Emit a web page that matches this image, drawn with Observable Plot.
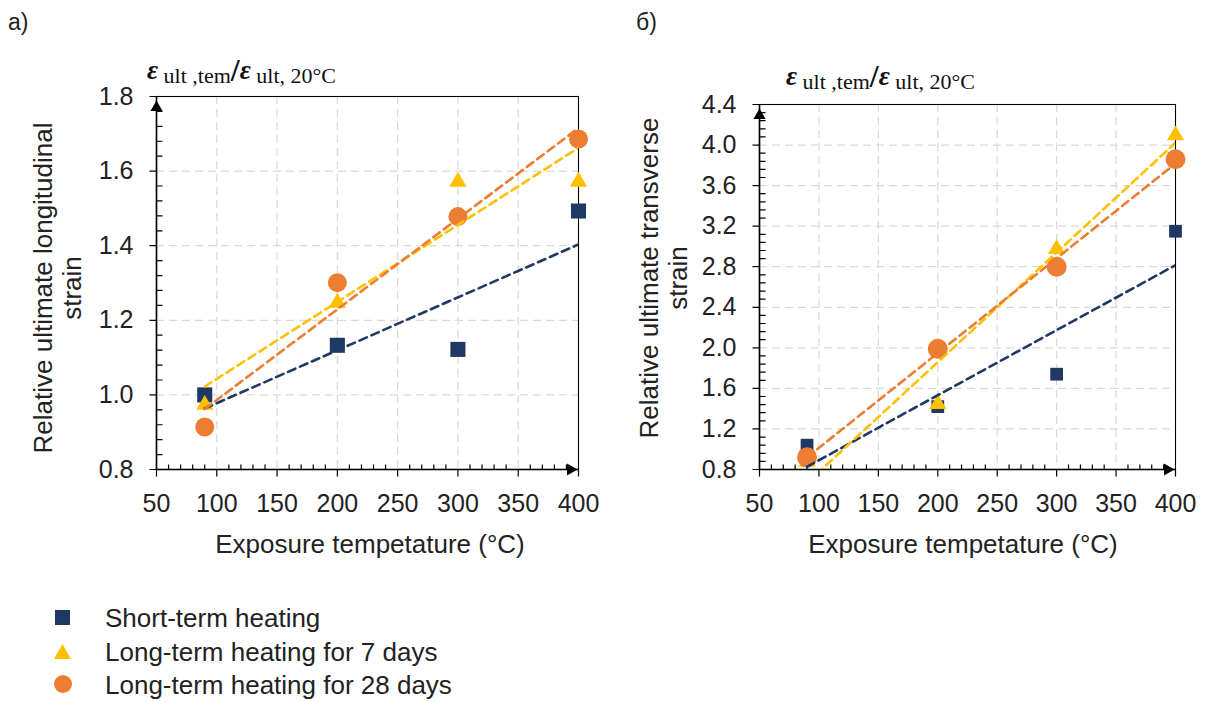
<!DOCTYPE html>
<html><head><meta charset="utf-8">
<script src="https://cdn.jsdelivr.net/npm/d3@7"></script>
<script src="https://cdn.jsdelivr.net/npm/@observablehq/plot@0.6"></script>
<style>
body{margin:0;background:#fff;font-family:"Liberation Sans",Arial,sans-serif;color:#222;}
#root{position:relative;width:1207px;height:702px;overflow:hidden;background:#fff}
.abs{position:absolute;white-space:pre;line-height:1}
.formula{position:absolute;white-space:pre;line-height:1;font-family:"Liberation Serif","DejaVu Serif",serif;color:#111}
.formula .eps{font-weight:bold;font-style:italic;font-size:27px}
.formula .sub{font-size:22px;position:relative;top:4px}
.formula .sl{font-size:32px;font-weight:bold;position:relative;top:2px}
.ytitle{position:absolute;white-space:nowrap;text-align:center;font-size:26px;line-height:29px;transform:translate(-50%,-50%) rotate(-90deg)}
.legrow{position:absolute;left:0;font-size:26px;line-height:1;white-space:nowrap}
</style></head><body><div id="root"></div>
<script>
// ---- data ----
const temps = [90, 200, 300, 400];
const seriesNames = ["Short-term heating", "Long-term heating for 7 days", "Long-term heating for 28 days"];
const seriesColors = ["#203864", "#FFC000", "#ED7D31"];
// panel a) relative ultimate longitudinal strain
const longShort = [1.00, 1.133, 1.122, 1.493];
const long7 = [0.98, 1.254, 1.578, 1.578];
const long28 = [0.914, 1.301, 1.478, 1.686];
// panel б) relative ultimate transverse strain
const transShort = [1.04, 1.42, 1.74, 3.15];
const trans7 = [0.90, 1.47, 3.00, 4.12];
const trans28 = [0.92, 1.99, 2.80, 3.86];
// axes
const xDomain = [50, 400];
const xTicks = [50, 100, 150, 200, 250, 300, 350, 400];
const yDomainA = [0.8, 1.8];
const yTicksA = [0.8, 1.0, 1.2, 1.4, 1.6, 1.8];
const yDomainB = [0.8, 4.4];
const yTicksB = [0.8, 1.2, 1.6, 2.0, 2.4, 2.8, 3.2, 3.6, 4.0, 4.4];
const xMinorTicks = d3.range(50, 400, 10).filter(v => v % 50 !== 0);
const yMinorA = d3.range(1, 25).filter(i => i % 5).map(i => 0.8 + i * 0.04);
const yMinorB = d3.range(1, 45).filter(i => i % 5).map(i => 0.8 + i * 0.08);

const root = document.getElementById("root");
function place(el, left, top) {
  const w = document.createElement("div");
  w.style.position = "absolute"; w.style.left = left + "px"; w.style.top = top + "px";
  w.appendChild(el); root.appendChild(w); return w;
}
function text(str, cls, left, top, extra) {
  const d = document.createElement("div");
  d.className = cls; d.textContent = str;
  d.style.left = left + "px"; d.style.top = top + "px";
  if (extra) Object.assign(d.style, extra);
  root.appendChild(d); return d;
}

// tick-line symbols for the dot mark: a short segment from the anchor point
const tickSym = (dx, dy) => ({draw(context) { context.moveTo(0, 0); context.lineTo(dx, dy); context.closePath(); }});
const tickDown = tickSym(0, 7), tickUp = tickSym(0, -5), tickLeft = tickSym(-7, 0), tickRight = tickSym(6, 0);

function panel(cfg) {
  const rows = cfg.series.flatMap((vals, i) => temps.map((t, j) => ({t, v: vals[j], s: seriesNames[i]})));
  const bySeries = i => rows.filter(d => d.s === seriesNames[i]);
  const grid = {stroke: "#d9d9d9", strokeOpacity: 1, strokeWidth: 1.2, strokeDasharray: "8,5"};
  const x0 = () => xDomain[0], y0 = () => cfg.yDomain[0];
  const tk = {fill: "none", stroke: "#000", strokeWidth: 1.2, r: 4};
  return Plot.plot({
    width: cfg.width, height: cfg.height,
    marginLeft: cfg.ml, marginRight: cfg.mr, marginTop: cfg.mt, marginBottom: cfg.mb,
    x: {domain: xDomain},
    y: {domain: cfg.yDomain},
    color: {domain: seriesNames, range: seriesColors},
    style: {fontFamily: "'Liberation Sans', Arial, sans-serif", fontSize: "25px", color: "#222", background: "transparent", overflow: "visible"},
    marks: [
      Plot.gridX(xTicks.slice(1, -1), grid),
      Plot.gridY(cfg.yTicks.slice(1, -1), grid),
      Plot.frame({stroke: "#000", strokeWidth: 1.1}),
      Plot.axisX({ticks: xTicks, tickSize: 7, tickPadding: 18, tickFormat: d => String(d), fontSize: 25, label: null, stroke: "none"}),
      Plot.axisY({ticks: cfg.yTicks, tickSize: 7, tickPadding: 16, tickFormat: d => d.toFixed(1), fontSize: 25, label: null, stroke: "none"}),
      // major ticks (outward) and minor ticks (inward)
      Plot.dot(xTicks, {x: d => d, y: y0, symbol: tickDown, ...tk}),
      Plot.dot(xMinorTicks, {x: d => d, y: y0, symbol: tickUp, ...tk}),
      Plot.dot(cfg.yTicks, {x: x0, y: d => d, symbol: tickLeft, ...tk}),
      Plot.dot(cfg.yMinor, {x: x0, y: d => d, symbol: tickRight, ...tk}),
      Plot.ruleX([xDomain[0]], {stroke: "#000", strokeWidth: 1.6}),
      Plot.ruleY([cfg.yDomain[0]], {stroke: "#000", strokeWidth: 1.6}),
      Plot.dot(bySeries(0), {x: "t", y: "v", fill: "s", symbol: "square", r: cfg.rSq}),
      Plot.dot(bySeries(1), {x: "t", y: "v", fill: "s", symbol: "triangle", r: cfg.rTri, dy: 2.5}),
      Plot.dot(bySeries(2), {x: "t", y: "v", fill: "s", symbol: "circle", r: cfg.rCirc}),
      Plot.linearRegressionY(rows, {x: "t", y: "v", stroke: "s", ci: 0, strokeWidth: 2.6, strokeDasharray: "8,5", clip: true}),
      Plot.dot([0], {x: x0, y: () => cfg.yDomain[1], symbol: "triangle", r: 4.5, fill: "#000", dy: 11}),
      Plot.dot([0], {x: () => xDomain[1], y: y0, symbol: "triangle", rotate: 90, r: 4.5, fill: "#000", dx: -8})
    ]
  });
}

const plotA = panel({series: [longShort, long7, long28], yDomain: yDomainA, yTicks: yTicksA, yMinor: yMinorA,
  width: 600, height: 530, ml: 156, mr: 22, mt: 96, mb: 61, rSq: 8.5, rTri: 6.4, rCirc: 9.5});
place(plotA, 0, 0);
const plotB = panel({series: [transShort, trans7, trans28], yDomain: yDomainB, yTicks: yTicksB, yMinor: yMinorB,
  width: 580, height: 530, ml: 139, mr: 25, mt: 104, mb: 61, rSq: 7.2, rTri: 6.4, rCirc: 10});
place(plotB, 620, 0);

// panel letters
text("a)", "abs", 8, 11, {fontSize: "23px"});
text("б)", "abs", 636, 11, {fontSize: "23px"});

// formula labels
function formula(left, top) {
  const d = document.createElement("div");
  d.className = "formula"; d.style.left = left + "px"; d.style.top = top + "px";
  const parts = [["eps", "ε"], ["sub", " ult ,tem"], ["sl", "/"], ["eps", "ε"], ["sub", " ult, 20°C"]];
  for (const [c, s] of parts) { const sp = document.createElement("span"); sp.className = c; sp.textContent = s; d.appendChild(sp); }
  root.appendChild(d);
}
formula(147, 52);
formula(786, 58);

// axis titles
text("Exposure tempetature (°C)", "abs", 370, 531, {fontSize: "26px", transform: "translateX(-50%)"});
text("Exposure tempetature (°C)", "abs", 963, 531, {fontSize: "26px", transform: "translateX(-50%)"});
function ytitle(lines, cx, cy) {
  const d = document.createElement("div");
  d.className = "ytitle"; d.style.left = cx + "px"; d.style.top = cy + "px";
  lines.forEach((l, i) => { if (i) d.appendChild(document.createElement("br")); d.appendChild(document.createTextNode(l)); });
  root.appendChild(d);
}
ytitle(["Relative ultimate longitudinal", "strain"], 58, 288);
ytitle(["Relative ultimate transverse", "strain"], 664, 278);

// legend
const legendShapes = [
  `<rect x="1" y="1" width="15" height="15" fill="${seriesColors[0]}"/>`,
  `<polygon points="8.5,1 17,16 0,16" fill="${seriesColors[1]}"/>`,
  `<circle cx="9" cy="9" r="9" fill="${seriesColors[2]}"/>`
];
const legendBaselines = [627, 661, 694];
seriesNames.forEach((name, i) => {
  const row = document.createElement("div");
  row.className = "legrow";
  row.style.top = (legendBaselines[i] - 22) + "px";
  row.style.left = "105px";
  row.textContent = name;
  root.appendChild(row);
  const sw = document.createElement("div");
  sw.style.position = "absolute"; sw.style.left = "54px"; sw.style.top = (legendBaselines[i] - 18 - (i === 2 ? 1 : 0)) + "px";
  sw.innerHTML = `<svg width="20" height="20">${legendShapes[i]}</svg>`;
  root.appendChild(sw);
});
</script></body></html>
